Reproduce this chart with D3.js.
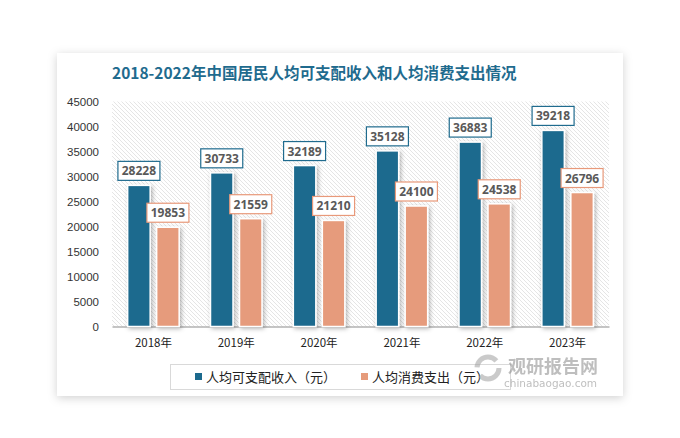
<!DOCTYPE html>
<html><head><meta charset="utf-8">
<script src="https://cdn.jsdelivr.net/npm/d3@7"></script>
<style>body{margin:0;background:#fff;}svg{display:block;}</style>
</head><body>
<script>
const title = "2018-2022年中国居民人均可支配收入和人均消费支出情况";
const categories = ["2018年","2019年","2020年","2021年","2022年","2023年"];
const seriesNames = ["人均可支配收入（元）","人均消费支出（元）"];
const income = [28228,30733,32189,35128,36883,39218];
const spending = [19853,21559,21210,24100,24538,26796];
const yTicks = [0,5000,10000,15000,20000,25000,30000,35000,40000,45000];
const colors = ["#1c6a8e","#e69b7b"];
const borderColors = ["#1f6b8e","#e8997a"];

const W=680,H=438;
const svg=d3.select("body").append("svg").attr("width",W).attr("height",H);
const defs=svg.append("defs");
const f=defs.append("filter").attr("id","sh").attr("x","-10%").attr("y","-10%").attr("width","120%").attr("height","120%");
f.append("feDropShadow").attr("dx",0).attr("dy",2).attr("stdDeviation",5).attr("flood-color","#000").attr("flood-opacity",0.18);
const fb=defs.append("filter").attr("id","bsh").attr("x","-30%").attr("y","-10%").attr("width","160%").attr("height","130%");
fb.append("feDropShadow").attr("dx",1.5).attr("dy",1.5).attr("stdDeviation",2).attr("flood-color","#000").attr("flood-opacity",0.3);
const p=defs.append("pattern").attr("id","hatch").attr("patternUnits","userSpaceOnUse").attr("width",4).attr("height",4);
p.append("rect").attr("width",4).attr("height",4).attr("fill","#fff");
p.append("path").attr("d","M-1,-1 L5,5 M-1,3 L1,5 M3,-1 L5,1").attr("stroke","#dedede").attr("stroke-width",0.8);

// card
svg.append("rect").attr("x",57).attr("y",53).attr("width",566).attr("height",343).attr("fill","#fff").attr("filter","url(#sh)");

const font="'Noto Sans CJK SC','Noto Sans',sans-serif";
svg.append("text").attr("x",112).attr("y",79).attr("font-family",font).attr("font-weight","bold").attr("font-size",15.5).attr("fill","#1f6b8e").text(title);

const x0=d3.scaleBand().domain(categories).range([112,609]);
const y=d3.scaleLinear().domain([0,45000]).range([326.5,101.5]);

svg.append("rect").attr("x",112).attr("y",101.5).attr("width",497).attr("height",225).attr("fill","url(#hatch)");

// y axis
const ya=svg.append("g").attr("transform","translate(112,0)").call(d3.axisLeft(y).tickValues(yTicks).tickSize(0).tickPadding(13).tickFormat(d3.format("d")));
ya.select(".domain").remove();
ya.selectAll("text").attr("font-family","'Liberation Sans',Arial,sans-serif").attr("font-size",11.5).attr("fill","#333");

// x axis
const xa=svg.append("g").attr("transform","translate(0,326.5)").call(d3.axisBottom(x0).tickSize(0).tickPadding(12));
xa.select(".domain").attr("stroke","#8c8c8c").attr("stroke-width",1.2);
xa.selectAll("text").attr("font-family",font).attr("font-size",11.5).attr("fill","#222");

const series=[income,spending];
const bw=22.5, off=14.5;
series.forEach((vals,si)=>{
  const g=svg.append("g");
  vals.forEach((v,i)=>{
    const cx=x0(categories[i])+x0.bandwidth()/2+(si===0?-off:off);
    g.append("rect").attr("x",cx-bw/2).attr("y",y(v)).attr("width",bw).attr("height",y(0)-y(v))
      .attr("fill",colors[si]).attr("stroke","#fff").attr("stroke-width",1.5).attr("filter","url(#bsh)");
  });
});
series.forEach((vals,si)=>{
  vals.forEach((v,i)=>{
    const cx=x0(categories[i])+x0.bandwidth()/2+(si===0?-off:off);
    const bwid=42,bh=19;
    const by=y(v)-5-bh;
    svg.append("rect").attr("x",cx-bwid/2).attr("y",by).attr("width",bwid).attr("height",bh)
      .attr("fill","#fff").attr("stroke",borderColors[si]).attr("stroke-width",1.2);
    svg.append("text").attr("x",cx).attr("y",by+bh/2+4.5).attr("text-anchor","middle")
      .attr("font-family","'Open Sans',sans-serif").attr("font-weight","bold").attr("font-size",12).attr("fill","#595959").text(v);
  });
});

// legend
svg.append("rect").attr("x",170.5).attr("y",364.5).attr("width",340).attr("height",25).attr("fill","#fff").attr("stroke","#d9d9d9");
const lx=[195,361];
seriesNames.forEach((n,i)=>{
  svg.append("rect").attr("x",lx[i]).attr("y",373).attr("width",7).attr("height",7).attr("fill",colors[i]);
  svg.append("text").attr("x",lx[i]+11).attr("y",381.5).attr("font-family",font).attr("font-size",13).attr("fill","#222").text(n);
});

// watermark
const wm=svg.append("g").attr("opacity",0.55);
wm.append("text").attr("x",508).attr("y",373).attr("font-family",font).attr("font-weight","bold").attr("font-size",18).attr("fill","#8a8a8a").text("观研报告网");
wm.append("text").attr("x",504).attr("y",387).attr("font-family","'DejaVu Sans',sans-serif").attr("font-size",10.5).attr("fill","#8a8a8a").text("chinabaogao.com");
wm.append("circle").attr("cx",488).attr("cy",368).attr("r",11).attr("fill","none").attr("stroke","#a0a0a0").attr("stroke-width",5).attr("stroke-dasharray","26 9");
</script>
</body></html>
